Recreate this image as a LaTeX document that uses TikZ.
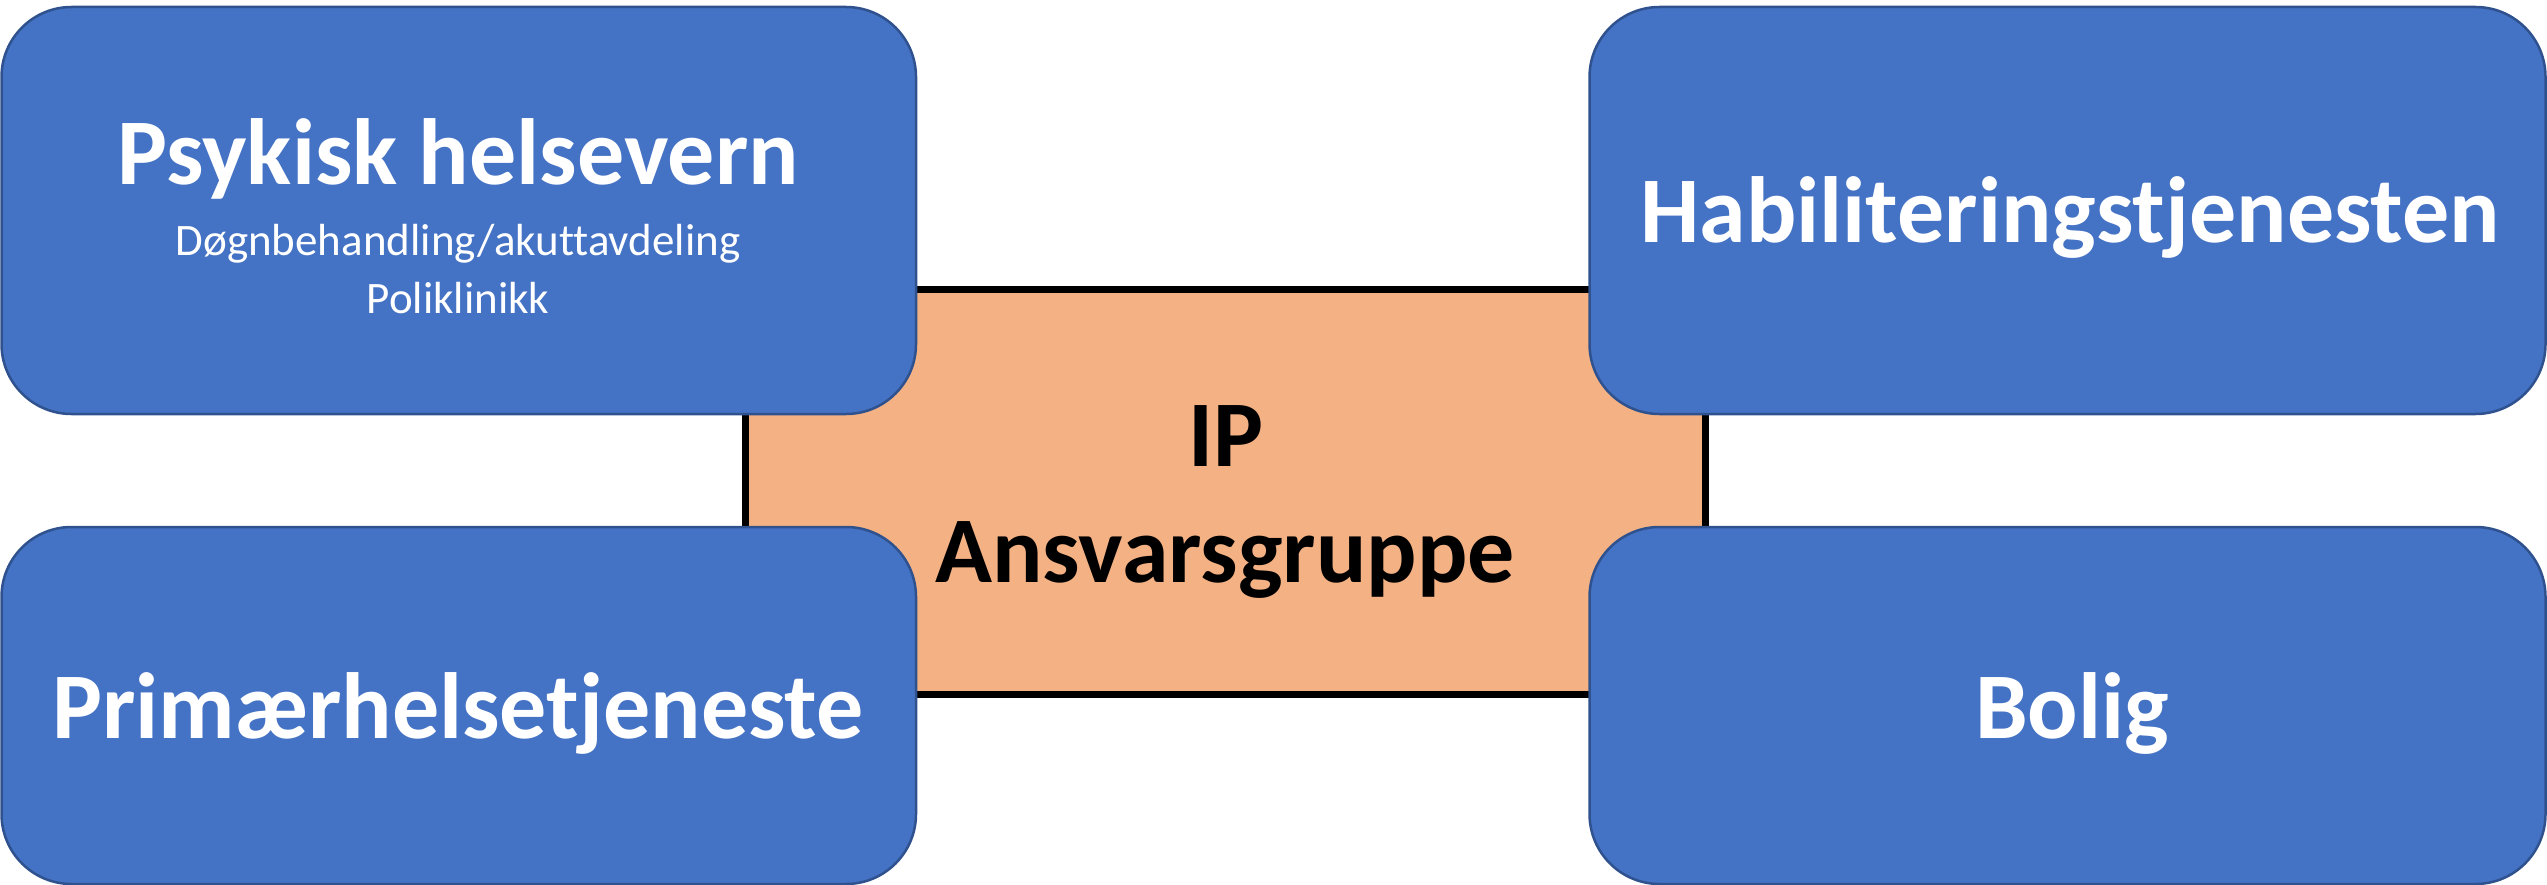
\documentclass[tikz,border=0pt]{standalone}
\usepackage{fontspec}
\setmainfont[Ligatures=NoCommon]{Carlito}
\definecolor{boxblue}{HTML}{4472C4}
\definecolor{boxedge}{HTML}{2F528F}
\definecolor{hubfill}{HTML}{F4B183}
\begin{document}
\begin{tikzpicture}[x=1pt,y=-1pt,
  service/.style={draw=boxedge, line width=2.5pt, fill=boxblue,
    rounded corners=70pt, inner sep=0pt},
  hub/.style={draw=black, line width=7pt, fill=hubfill, inner sep=0pt,
    minimum width=960pt, minimum height=405.5pt},
  bigtext/.style={font=\fontsize{94}{110}\selectfont\bfseries,
    anchor=base, inner sep=0pt},
  smalltext/.style={font=\fontsize{45}{54}\selectfont,
    anchor=base, inner sep=0pt, text=white}]
\useasboundingbox (0,0) rectangle (2547,885);

% central responsibility group
\node[hub] (hub) at (1225.5,491.75) {};

% surrounding services
\node[service, minimum width=914.5pt, minimum height=407pt] (psy) at (458.75,210.5) {};
\node[service, minimum width=956pt, minimum height=407pt] (hab) at (2067.5,210.5) {};
\node[service, minimum width=914.5pt, minimum height=357pt] (prim) at (458.75,705.5) {};
\node[service, minimum width=956pt, minimum height=357pt] (bolig) at (2067.5,705.5) {};

% labels
\node[bigtext, text=white] (psyt) at (458,185) {Psykisk helsevern};
\node[smalltext] (psya) at (458,255) {Døgnbehandling/akuttavdeling};
\node[smalltext] (psyb) at (458,313) {Poliklinikk};
\node[bigtext, text=white] (habt) at (2070,243) {Habiliteringstjenesten};
\node[bigtext, text=white] (primt) at (458,738) {Primærhelsetjeneste};
\node[bigtext, text=white] (boligt) at (2072,738) {Bolig};
\node[bigtext, text=black] (hubip) at (1226,466) {IP};
\node[bigtext, text=black] (hubgr) at (1225,582) {Ansvarsgruppe};
\end{tikzpicture}
\end{document}
